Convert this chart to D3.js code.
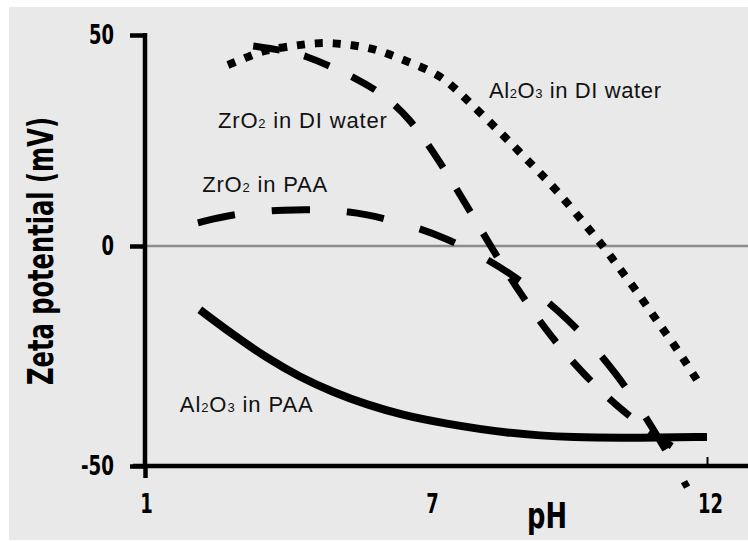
<!DOCTYPE html>
<html>
<head>
<meta charset="utf-8">
<script src="https://cdn.jsdelivr.net/npm/d3@7"></script>
<style>
  html, body { margin: 0; padding: 0; background: #ffffff; }
  svg { display: block; }
</style>
</head>
<body>
<script>
// axis ticks
var xTicks = [1, 7, 12];
var yTicks = [-50, 0, 50];

// [pH, zeta potential mV]
var al2o3Water = [[2.74, 42.9], [3.1, 44.5], [3.48, 46.4], [4.21, 47.6], [4.59, 48.1], [4.96, 48.1],
    [5.34, 47.6], [5.72, 46.9], [6.08, 45.7], [6.64, 43.1], [7.18, 40.5], [7.6, 35.3], [8.27, 26.8],
    [8.74, 20.4], [9.23, 14.0], [9.83, 4.5], [10.13, -0.2], [10.37, -4.3], [10.75, -10.7],
    [11.11, -17.3], [11.47, -23.6], [11.82, -30.5]];
var zro2Water = [[3.27, 47.4], [3.89, 46.4], [4.4, 45.0], [4.92, 42.4], [5.41, 39.8], [5.93, 36.5],
    [6.54, 30.6], [7.14, 20.4], [7.62, 10.2], [8.11, -0.7], [8.61, -10.7], [9.16, -20.5],
    [9.77, -29.3], [10.46, -37.5], [11.06, -43.0], [11.47, -46.4]];
var zro2PAA = [[2.11, 5.5], [2.93, 7.8], [4.15, 8.8], [5.34, 8.3], [6.14, 6.2], [7.25, 2.4],
    [8.45, -5.9], [9.5, -16.4], [10.39, -29.1], [11.1, -43.0], [11.64, -54.8]];
var al2o3PAA = [[2.15, -14.5], [2.85, -20.2], [3.56, -25.5], [4.25, -29.8], [4.94, -33.2],
    [5.66, -36.1], [6.4, -38.4], [7.18, -40.2], [8.38, -42.6], [9.59, -43.6], [10.8, -43.6], [12.0, -43.4]];

// curve labels: [main, sub1, mid, sub2, rest] and where they sit (pH, mV)
var labelParts = [
    ["Zr", "", "O", "2", " in DI water"],
    ["Al", "2", "O", "3", " in DI water"],
    ["Zr", "", "O", "2", " in PAA"],
    ["Al", "2", "O", "3", " in PAA"]
];
var labelSpots = [[2.53, 28.0], [8.05, 35.1], [2.2, 12.8], [1.73, -37.7]];
var labelWidths = [169, 172, 125, 133];

var width = 748, height = 541;

var svg = d3.select("body").append("svg")
    .attr("width", width)
    .attr("height", height);

// grey panel
svg.append("rect")
    .attr("x", 9).attr("y", 7)
    .attr("width", width - 9).attr("height", 533)
    .attr("fill", "#e9e9e9");

// scales (the original axis is not evenly spaced)
var x = d3.scaleLinear().domain([1, 7, 12]).range([145, 431, 707]);
var y = d3.scaleLinear().domain([-50, 0, 50]).range([466, 246, 35]);

var boldFont = "'Liberation Sans Narrow', 'DejaVu Sans Condensed', 'Liberation Sans', sans-serif";

// width of a bold tick label in the original, in px
function tickWidth(d) {
    var s = String(d);
    return s.replace("-", "").length * 12.5 + (s.charAt(0) === "-" ? 8 : 0);
}

// zero line
svg.append("line")
    .attr("x1", x(1)).attr("x2", width)
    .attr("y1", y(0)).attr("y2", y(0))
    .attr("stroke", "#8c8c8c")
    .attr("stroke-width", 2.5);

var line = d3.line()
    .x(function(d) { return x(d[0]); })
    .y(function(d) { return y(d[1]); })
    .curve(d3.curveBasis);

// Al2O3 in DI water - dotted
svg.append("path")
    .attr("d", line(al2o3Water))
    .attr("fill", "none")
    .attr("stroke", "#000")
    .attr("stroke-width", 8)
    .attr("stroke-dasharray", "8,10");

// ZrO2 in DI water - short dashes
svg.append("path")
    .attr("d", line(zro2Water))
    .attr("fill", "none")
    .attr("stroke", "#000")
    .attr("stroke-width", 7)
    .attr("stroke-dasharray", "27,25");

// ZrO2 in PAA - long dashes
svg.append("path")
    .attr("d", line(zro2PAA))
    .attr("fill", "none")
    .attr("stroke", "#000")
    .attr("stroke-width", 7)
    .attr("stroke-dasharray", "38,37");

// Al2O3 in PAA - solid
svg.append("path")
    .attr("d", line(al2o3PAA))
    .attr("fill", "none")
    .attr("stroke", "#000")
    .attr("stroke-width", 8);

// y axis
var yAxis = d3.axisLeft(y)
    .tickValues(yTicks)
    .tickSize(15)
    .tickSizeOuter(0)
    .tickPadding(16)
    .tickFormat(function(d) { return String(d); });

var gy = svg.append("g")
    .attr("transform", "translate(" + x(1) + ",0)")
    .call(yAxis);
gy.select(".domain").remove();
gy.selectAll(".tick line").attr("stroke", "#000").attr("stroke-width", 4.5);
gy.selectAll(".tick text")
    .attr("fill", "#000")
    .attr("textLength", tickWidth)
    .attr("lengthAdjust", "spacingAndGlyphs")
    .style("font-family", boldFont)
    .style("font-weight", "bold")
    .style("font-size", "27px");

svg.append("line")
    .attr("x1", x(1)).attr("x2", x(1))
    .attr("y1", y(50) - 2).attr("y2", y(-50))
    .attr("stroke", "#000")
    .attr("stroke-width", 4.5);

// x axis
var xAxis = d3.axisBottom(x)
    .tickValues(xTicks)
    .tickSize(12)
    .tickSizeOuter(0)
    .tickFormat(function(d) { return String(d); });

var gx = svg.append("g")
    .attr("transform", "translate(0," + y(-50) + ")")
    .call(xAxis);
gx.select(".domain").remove();
gx.selectAll(".tick line")
    .attr("stroke", "#000")
    .attr("y2", function(d) { return d === 1 ? 12 : (d === 12 ? -9 : 0); })
    .attr("stroke-width", function(d) { return d === 12 ? 2 : 4.5; });
gx.selectAll(".tick text")
    .attr("fill", "#000")
    .attr("y", 47)
    .attr("dy", null)
    .attr("dx", function(d) { return d === 12 ? 3 : 1; })
    .attr("textLength", tickWidth)
    .attr("lengthAdjust", "spacingAndGlyphs")
    .style("font-family", boldFont)
    .style("font-weight", "bold")
    .style("font-size", "27px");

svg.append("line")
    .attr("x1", 133).attr("x2", width)
    .attr("y1", y(-50)).attr("y2", y(-50))
    .attr("stroke", "#000")
    .attr("stroke-width", 4.5);

// axis titles
svg.append("text")
    .attr("transform", "translate(53,251) rotate(-90)")
    .attr("text-anchor", "middle")
    .attr("textLength", 268)
    .attr("lengthAdjust", "spacingAndGlyphs")
    .style("font-family", boldFont)
    .style("font-weight", "bold")
    .style("font-size", "36px")
    .text("Zeta potential (mV)");

svg.append("text")
    .attr("x", 547).attr("y", 528)
    .attr("text-anchor", "middle")
    .attr("textLength", 40)
    .attr("lengthAdjust", "spacingAndGlyphs")
    .style("font-family", boldFont)
    .style("font-weight", "bold")
    .style("font-size", "36px")
    .text("pH");

// curve labels with subscripts
labelParts.forEach(function(parts, i) {
    var t = svg.append("text")
        .attr("x", x(labelSpots[i][0]))
        .attr("y", y(labelSpots[i][1]))
        .attr("textLength", labelWidths[i])
        .style("font-family", "'Liberation Sans', Arial, sans-serif")
        .style("font-size", "22px")
        .attr("fill", "#111");
    parts.forEach(function(p, j) {
        if (!p) return;
        var sub = (j === 1 || j === 3);
        t.append("tspan")
            .style("font-size", sub ? "13px" : "22px")
            .text(p);
    });
});
</script>
</body>
</html>
